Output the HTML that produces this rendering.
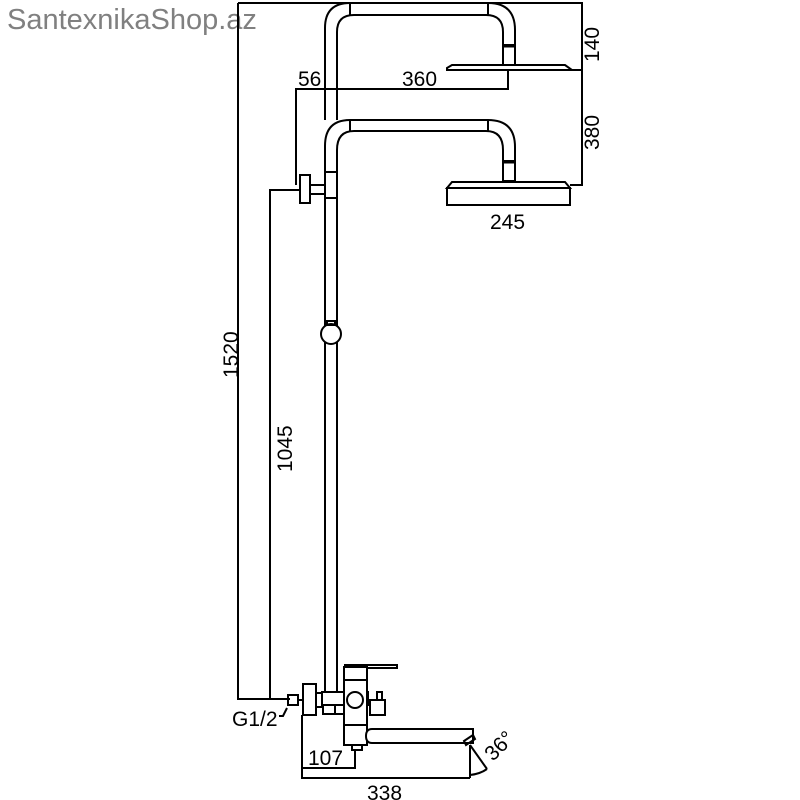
<!DOCTYPE html>
<html><head><style>body{margin:0;background:#fff}svg{display:block}</style></head><body>
<svg width="800" height="800" viewBox="0 0 800 800" xmlns="http://www.w3.org/2000/svg">
<rect width="800" height="800" fill="#fff"/>
<text x="7" y="29" font-family="Liberation Sans, sans-serif" font-size="29" fill="#808080">SantexnikaShop.az</text>
<g fill="none" stroke="#000" stroke-width="2">
<polyline points="238,3 582,3 582,185 570,185"/>
<line x1="570" y1="70" x2="582" y2="70"/>
<polyline points="238,3 238,699 290,699"/>
<polyline points="270,699 270,190 300,190"/>
<polyline points="296,185 296,89 508,89 508,70"/>
<path d="M325,120 L325,28 Q325,3 350,3 L488,3 Q515,3 515,30 L515,45"/>
<path d="M337,120 L337,32 Q337,15 354,15 L486,15 Q503,15 503,32 L503,45"/>
<line x1="350" y1="3" x2="350" y2="15"/><line x1="488" y1="3" x2="488" y2="15"/>
<rect x="503" y="45" width="12" height="20"/>
<line x1="503" y1="46" x2="515" y2="46" stroke-width="3"/>
<path d="M447,68 L452,65 L565,65 L572,70 L447,70 Z"/>
<path d="M325,693 L325,146 Q325,120 350,120 L488,120 Q515,120 515,147 L515,175"/>
<path d="M337,693 L337,150 Q337,131 354,131 L486,131 Q503,131 503,150 L503,175"/>
<line x1="350" y1="120" x2="350" y2="131"/><line x1="488" y1="120" x2="488" y2="131"/>
<rect x="503" y="161" width="12" height="20"/>
<line x1="503" y1="162" x2="515" y2="162" stroke-width="3"/>
<path d="M447,188 L452,182 L565,182 L570,188 Z"/>
<rect x="447" y="188" width="123" height="17"/>
<rect x="300" y="175" width="10" height="28"/>
<rect x="325" y="172" width="12" height="26"/>
<path d="M310,185 L325,185 M310,194 L325,194"/>
<circle cx="331" cy="334" r="10" fill="#fff"/>
<rect x="327" y="321" width="8" height="4"/>
<rect x="288" y="695" width="10" height="10"/>
<line x1="298" y1="700" x2="303" y2="700"/>
<rect x="303" y="684" width="13" height="31"/>
<rect x="316" y="693" width="6" height="14"/>
<rect x="322" y="692" width="46" height="13"/>
<rect x="323" y="705" width="12" height="9"/>
<rect x="335" y="705" width="12" height="9"/>
<rect x="344" y="667" width="23" height="78" fill="#fff"/>
<path d="M344,665 L397,665 L397,668 L367,668"/>
<path d="M344,680 L367,680 M344,725 L367,725"/>
<rect x="344" y="667" width="23" height="13"/>
<circle cx="355" cy="700" r="8" fill="#fff"/>
<rect x="370" y="700" width="15" height="15"/>
<rect x="377" y="692" width="5" height="8"/>
<path d="M372,729 L473,729 L473,743 L372,743 Q366,743 366,736 Q366,729 372,729 Z" fill="#fff"/>
<rect x="352" y="745" width="10" height="5"/>
<path d="M464,741 L473,735 L475,739 L466,745 Z"/>
<polyline points="470,745 470,778"/>
<line x1="470" y1="745" x2="487" y2="769"/>
<path d="M470,775 Q480,774 487,769"/>
<path d="M287,708 L283,716 L279,716"/>
<polyline points="302,715 302,778 470,778"/>
<polyline points="302,768 355,768 355,750"/>
</g>
<g font-family="Liberation Sans, sans-serif" font-size="21" fill="#000">
<text x="298" y="86">56</text>
<text x="402" y="86">360</text>
<text x="490" y="229">245</text>
<text x="308" y="765">107</text>
<text x="367" y="800">338</text>
<text x="232" y="726">G1/2</text>
<text transform="translate(599,62) rotate(-90)">140</text>
<text transform="translate(599,150) rotate(-90)">380</text>
<text transform="translate(238,378) rotate(-90)">1520</text>
<text transform="translate(292,472) rotate(-90)">1045</text>
<text transform="translate(493,762) rotate(-45)">36°</text>
</g>
</svg>
</body></html>
